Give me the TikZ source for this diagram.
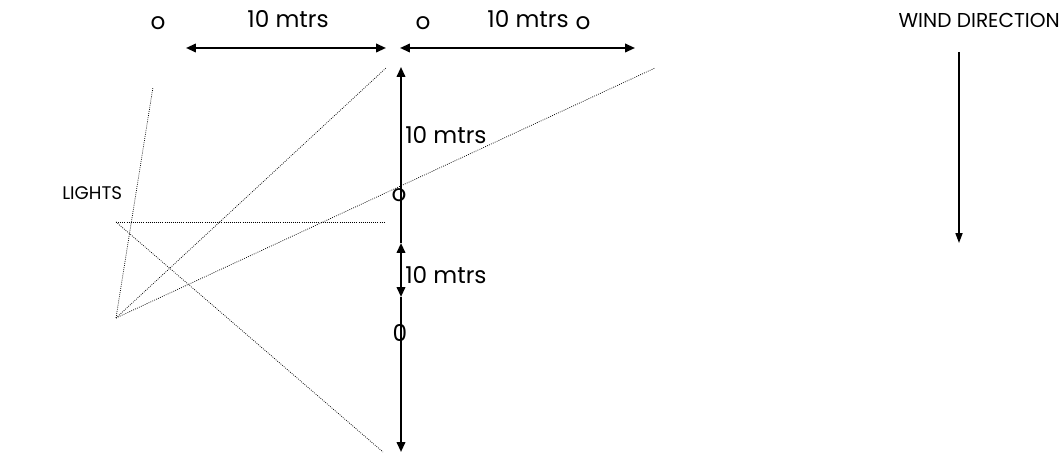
\documentclass[tikz,border=0pt]{standalone}
\usepackage{fontspec}
\setmainfont{Poppins}
\usetikzlibrary{arrows.meta}
\tikzset{
	dim/.style={line width=1.4pt, {Triangle[length=7pt,width=6pt]}-{Triangle[length=7pt,width=6pt]}},
	ray/.style={dotted, line width=0.5pt, dash pattern=on 0.6pt off 0.9pt},
	lbl/.style={font=\fontsize{13}{15}\selectfont, inner sep=0pt},
	dimlbl/.style={font=\fontsize{16.5}{19}\selectfont, inner sep=0pt},
}
\begin{document}
\begin{tikzpicture}
	\useasboundingbox (0,0) rectangle (26.5,11.375);
	
	% top row of lights
	\node[dimlbl] (oa) at (3.95,10.8) {o};
	\node[dimlbl] (ob) at (10.575,10.8) {o};
	\node[dimlbl] (oc) at (14.575,10.8) {o};
	\node[dimlbl] (da) at (7.2,10.9) {10 mtrs};
	\node[dimlbl] (db) at (13.2,10.9) {10 mtrs};
	
	\coordinate (al) at (4.65,10.175);
	\coordinate (ar) at (9.65,10.175);
	\coordinate (bl) at (10.0,10.175);
	\coordinate (br) at (15.875,10.175);
	\draw[dim] (al) -- (ar);
	\draw[dim] (bl) -- (br);
	
	% vertical line of lights
	\coordinate (vtop) at (10.025,9.7);
	\coordinate (vup) at (10.025,5.3);
	\coordinate (vdown) at (10.025,3.95);
	\coordinate (vbot) at (10.025,0.075);
	\draw[dim, {Triangle[length=7pt,width=6pt]}-] (vtop) -- (vup);
	\draw[dim] (vup) -- (vdown);
	\draw[dim, -{Triangle[length=7pt,width=6pt]}] (vdown) -- (vbot);
	\node[dimlbl] (om) at (9.975,6.5) {o};
	\node[dimlbl] (ol) at (10.0,3.05) {0};
	\node[dimlbl, anchor=west] (dc) at (10.125,8.0) {10 mtrs};
	\node[dimlbl, anchor=west] (dd) at (10.125,4.5) {10 mtrs};
	
	\node[lbl, anchor=west] (lights) at (1.55,6.55) {LIGHTS};
	
	% rays
	\coordinate (ra) at (2.9,3.425);
	\coordinate (rb) at (2.9,5.825);
	\coordinate (ea) at (3.825,9.2);
	\coordinate (eb) at (9.65,9.675);
	\coordinate (ec) at (16.375,9.675);
	\coordinate (ed) at (9.6,5.825);
	\coordinate (ee) at (9.575,0.075);
	\foreach \e in {ea,eb,ec}{
		\draw[ray] (ra) -- (\e);
	}
	\draw[ray] (rb) -- (ed);
	\draw[ray] (rb) -- (ee);
	
	% wind
	\node[lbl, font=\fontsize{14.3}{16}\selectfont] (wind) at (24.48,10.875) {WIND DIRECTION};
	\coordinate (wtop) at (23.975,10.075);
	\coordinate (wbot) at (23.975,5.3);
	\draw[line width=1pt, -{Triangle[length=7pt,width=5pt]}] (wtop) -- (wbot);
\end{tikzpicture}
\end{document}
